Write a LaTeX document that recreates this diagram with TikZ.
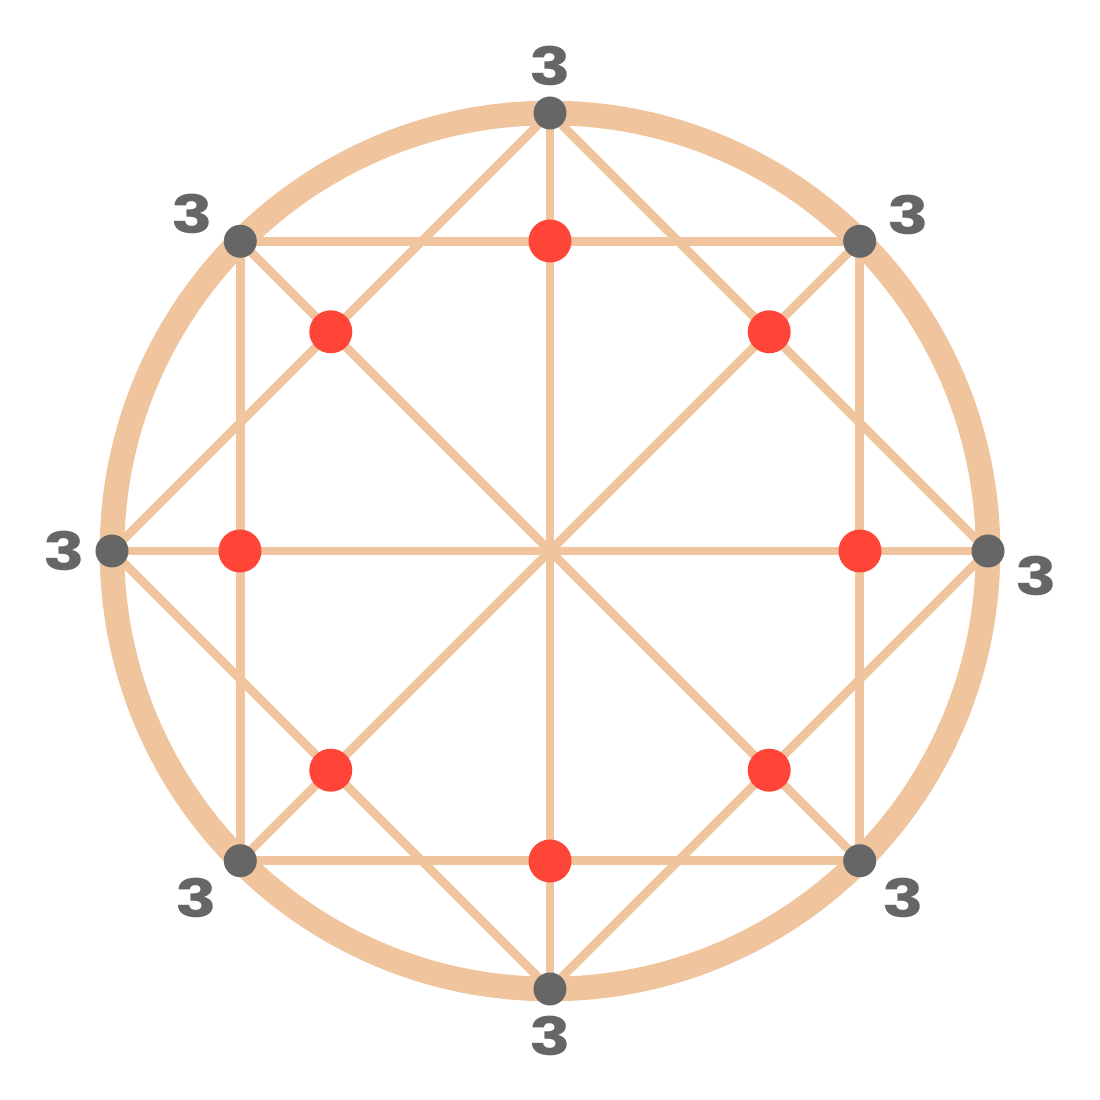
\documentclass[tikz,border=0pt]{standalone}
\usepackage{fontspec}
\setmainfont[FakeStretch=1.3]{Poppins}
\usetikzlibrary{backgrounds}
\definecolor{ring}{HTML}{F0C49C}
\definecolor{vgray}{HTML}{666666}
\definecolor{hitred}{HTML}{FF4438}
\tikzset{
  chord/.style={draw=ring, line width=2.5pt, line cap=round},
  rim/.style={draw=ring, line width=7pt},
  vert/.style={circle, fill=vgray, inner sep=0pt, minimum size=3.3mm},
  hit/.style={circle, fill=hitred, inner sep=0pt, minimum size=4.3mm},
  lbl/.style={font=\bfseries\fontsize{15}{15}\selectfont, text=vgray, inner sep=1pt},
}

\begin{document}
\begin{tikzpicture}[x=1cm,y=1cm]
\useasboundingbox (-5.5,-5.49) rectangle (5.5,5.51);

% ---------------- outer vertices ----------------
\foreach \a/\l [count=\i] in {90/90, 45/5, 0/-3, -45/-36, -90/-90, -135/-146, 180/180, 135/172}
  \node[vert, label={[lbl, label distance=0.6mm]\l:3}] (v\i) at (\a:4.38) {};

% ---------------- crossing points ----------------
\foreach \a [count=\i] in {90, 45, 0, -45, -90, -135, 180, 135}
  \node[hit] (h\i) at (\a:3.1) {};

% ---------------- ring, squares, diameters ----------------
\begin{scope}[on background layer]
  \draw[rim] (0,0) circle (4.38);
  \foreach \i in {1,...,8} {
    \pgfmathtruncatemacro{\j}{mod(\i+1,8)+1}
    \draw[chord] (v\i.center) -- (v\j.center);
  }
  \foreach \i in {1,...,4} {
    \pgfmathtruncatemacro{\j}{\i+4}
    \draw[chord] (v\i.center) -- (v\j.center);
  }
\end{scope}

\end{tikzpicture}
\end{document}
